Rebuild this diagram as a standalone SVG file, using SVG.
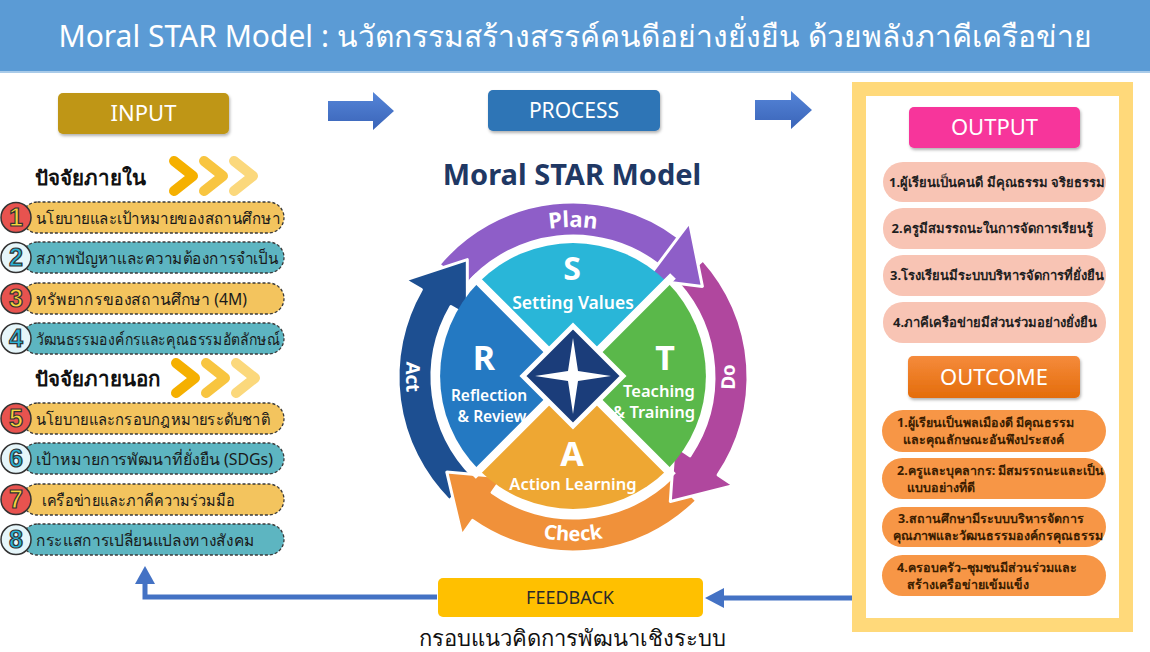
<svg xmlns="http://www.w3.org/2000/svg" width="1150" height="652" viewBox="0 0 1150 652">
<defs>
<style>
.th{font-family:"Noto Sans","Liberation Sans","DejaVu Sans",sans-serif}
.hdr{font-family:"Noto Sans","Liberation Sans",sans-serif;fill:#fff;text-anchor:middle}
.pill{stroke:#3a3a3a;stroke-width:1.3;stroke-dasharray:3 2}
.py{fill:#f3c45e}.pt{fill:#5db5c1}
.ptxt{font-family:"Noto Sans","Liberation Sans",sans-serif;font-size:16px;fill:#1a1a1a}
.codd{fill:#e8534f;stroke:#333;stroke-width:1.5}
.ceven{fill:#e6f6fa;stroke:#333;stroke-width:1.5}
.num{font-family:"Liberation Sans",sans-serif;font-weight:bold;font-size:25px;text-anchor:middle;stroke:#333;stroke-width:1.2}
.nodd{fill:#f8d43c}.neven{fill:#2bb3d6}
.ring{stroke:#fff;stroke-width:3;stroke-linejoin:round}
.rt{font-family:"Noto Sans","Liberation Sans",sans-serif;font-weight:bold;fill:#fff}
.ql{font-family:"Noto Sans","Liberation Sans",sans-serif;font-weight:bold;fill:#fff;text-anchor:middle}
.qs{font-family:"Noto Sans","Liberation Sans",sans-serif;font-weight:600;fill:#fff;text-anchor:middle;font-size:15.5px}
.opill{fill:#f8c4b4}
.otxt{font-family:"Noto Sans","Liberation Sans",sans-serif;font-weight:bold;font-size:13px;fill:#1e1e1e;text-anchor:middle}
.cpill{fill:#f79646}
.ctxt{font-family:"Noto Sans","Liberation Sans",sans-serif;font-weight:bold;font-size:12.5px;fill:#3b1d00}
.chev{fill:none;stroke-width:10;stroke-linecap:round;stroke-linejoin:round}
.blk{fill:#4472c4}
.fb{stroke:#4472c4;stroke-width:5;fill:none}
</style>
<linearGradient id="gout" x1="0" y1="0" x2="0" y2="1"><stop offset="0" stop-color="#f58b3c"/><stop offset="1" stop-color="#e46c0a"/></linearGradient>
<linearGradient id="garr" x1="0" y1="0" x2="0" y2="1"><stop offset="0" stop-color="#5585d8"/><stop offset="1" stop-color="#3a64b8"/></linearGradient>
<filter id="sh" x="-10%" y="-20%" width="120%" height="150%"><feDropShadow dx="1" dy="2" stdDeviation="1.5" flood-color="#000" flood-opacity="0.3"/></filter>
<path id="pPlan" d="M423,377 A150,150 0 0 1 723,377"/>
<path id="pCheck" d="M409,377 A164,164 0 0 0 737,377"/>
<path id="pAct" d="M573,210 A167,167 0 0 0 573,544"/>
<path id="pDo" d="M573,539 A162,162 0 0 0 573,215"/>
</defs>

<g id="title">
<rect x="0" y="0" width="1150" height="72" fill="#5b9bd5"/>
<rect x="0" y="71" width="1150" height="2" fill="#a9cbe9"/>
<text x="575" y="47" class="th" font-size="30" fill="#fff" text-anchor="middle">Moral STAR Model : นวัตกรรมสร้างสรรค์คนดีอย่างยั่งยืน ด้วยพลังภาคีเครือข่าย</text>
</g>

<g id="input">
<rect x="58" y="93" width="171" height="41" rx="5" fill="#bf9614" filter="url(#sh)"/>
<text x="143.5" y="121" class="hdr" font-size="22">INPUT</text>
</g>

<g id="internal-header">
<text x="35" y="185" class="th" font-size="20.5" font-weight="bold" fill="#111">ปัจจัยภายใน</text>
<polyline points="174,161 193,176 174,191" class="chev" stroke="#f5b000"/>
<polyline points="204,161 223,176 204,191" class="chev" stroke="#f8c540"/>
<polyline points="234,161 253,176 234,191" class="chev" stroke="#fbd87c"/>
</g>

<g id="external-header">
<text x="35" y="386" class="th" font-size="20.5" font-weight="bold" fill="#111">ปัจจัยภายนอก</text>
<polyline points="176,363 195,378 176,393" class="chev" stroke="#f5b000"/>
<polyline points="206,363 225,378 206,393" class="chev" stroke="#f8c540"/>
<polyline points="236,363 255,378 236,393" class="chev" stroke="#fbd87c"/>
</g>

<g id="item1"><rect x="22" y="202" width="262" height="31" rx="15.5" class="pill py"/><circle cx="16" cy="217.5" r="15" class="codd"/><text x="16" y="226" class="num nodd">1</text><text x="36" y="223.5" class="ptxt" textLength="244" lengthAdjust="spacingAndGlyphs">นโยบายและเป้าหมายของสถานศึกษา</text></g>
<g id="item2"><rect x="22" y="242" width="262" height="31" rx="15.5" class="pill pt"/><circle cx="16" cy="257.5" r="15" class="ceven"/><text x="16" y="266" class="num neven">2</text><text x="36" y="263.5" class="ptxt" textLength="242" lengthAdjust="spacingAndGlyphs">สภาพปัญหาและความต้องการจำเป็น</text></g>
<g id="item3"><rect x="22" y="283" width="262" height="31" rx="15.5" class="pill py"/><circle cx="16" cy="298.5" r="15" class="codd"/><text x="16" y="307" class="num nodd">3</text><text x="36" y="304.5" class="ptxt" textLength="211" lengthAdjust="spacingAndGlyphs">ทรัพยากรของสถานศึกษา (4M)</text></g>
<g id="item4"><rect x="22" y="323" width="262" height="31" rx="15.5" class="pill pt"/><circle cx="16" cy="338.5" r="15" class="ceven"/><text x="16" y="347" class="num neven">4</text><text x="36" y="344.5" class="ptxt" textLength="244" lengthAdjust="spacingAndGlyphs">วัฒนธรรมองค์กรและคุณธรรมอัตลักษณ์</text></g>
<g id="item5"><rect x="22" y="403" width="262" height="31" rx="15.5" class="pill py"/><circle cx="16" cy="418.5" r="15" class="codd"/><text x="16" y="427" class="num nodd">5</text><text x="36" y="424.5" class="ptxt" textLength="234" lengthAdjust="spacingAndGlyphs">นโยบายและกรอบกฎหมายระดับชาติ</text></g>
<g id="item6"><rect x="22" y="443" width="262" height="31" rx="15.5" class="pill pt"/><circle cx="16" cy="458.5" r="15" class="ceven"/><text x="16" y="467" class="num neven">6</text><text x="36" y="464.5" class="ptxt" textLength="237" lengthAdjust="spacingAndGlyphs">เป้าหมายการพัฒนาที่ยั่งยืน (SDGs)</text></g>
<g id="item7"><rect x="22" y="484" width="262" height="31" rx="15.5" class="pill py"/><circle cx="16" cy="499.5" r="15" class="codd"/><text x="16" y="508" class="num nodd">7</text><text x="42" y="505.5" class="ptxt" textLength="193" lengthAdjust="spacingAndGlyphs">เครือข่ายและภาคีความร่วมมือ</text></g>
<g id="item8"><rect x="22" y="524" width="262" height="31" rx="15.5" class="pill pt"/><circle cx="16" cy="539.5" r="15" class="ceven"/><text x="16" y="548" class="num neven">8</text><text x="36" y="545.5" class="ptxt" textLength="219" lengthAdjust="spacingAndGlyphs">กระแสการเปลี่ยนแปลงทางสังคม</text></g>

<g id="process">
<rect x="488" y="90" width="172" height="41" rx="5" fill="#2e75b6" filter="url(#sh)"/>
<text x="574" y="118" class="hdr" font-size="21">PROCESS</text>
</g>

<g id="model-title">
<text x="572" y="185" font-family="Noto Sans, Liberation Sans, sans-serif" font-weight="bold" font-size="29" fill="#1f3864" text-anchor="middle">Moral STAR Model</text>
</g>

<g id="star-model">
<g id="cycle">
<path class="ring" fill="#8e5ec8" d="M438.95,264.51 A175,175 0 0 1 678.3,237.2 L689.5,222.3 L702.4,286.4 L646.6,279.4 L657.9,264.4 A141,141 0 0 0 465.0,286.4 Z"/>
<path class="ring" fill="#1d4f91" d="M449.3,500.7 A175,175 0 0 1 421.4,289.5 L405,280 L467.3,259.6 L467.4,316 L450.9,306.5 A141,141 0 0 0 473.3,476.7 Z"/>
<path class="ring" fill="#f0913a" d="M696.7,500.7 A175,175 0 0 1 472.6,520.4 L461.8,535.7 L446.8,472.1 L502.9,477.1 L492.1,492.5 A141,141 0 0 0 672.7,476.7 Z"/>
<path class="ring" fill="#b0479e" d="M703.0,259.9 A175,175 0 0 1 718.1,474.9 L733.8,485.4 L670.3,501.5 L674.2,445.3 L689.9,455.8 A141,141 0 0 0 677.8,282.7 Z"/>
<path class="ring" fill="#8e5ec8" d="M678.3,237.2 L689.5,222.3 L702.4,286.4 L646.6,279.4 L657.9,264.4 Z"/>
<text class="rt" font-size="22"><textPath href="#pPlan" startOffset="50%" text-anchor="middle">Plan</textPath></text>
<text class="rt" font-size="20"><textPath href="#pCheck" startOffset="50%" text-anchor="middle">Check</textPath></text>
<text class="rt" font-size="19"><textPath href="#pAct" startOffset="50%" text-anchor="middle">Act</textPath></text>
<text class="rt" font-size="19"><textPath href="#pDo" startOffset="50%" text-anchor="middle">Do</textPath></text>
</g>
<g id="quadrants">
<path fill="#29b6d8" d="M573,376 L479,282 A133,133 0 0 1 667,282 Z"/>
<path fill="#5ab84a" d="M573,376 L667,282 A133,133 0 0 1 667,470 Z"/>
<path fill="#eea733" d="M573,376 L667,470 A133,133 0 0 1 479,470 Z"/>
<path fill="#2479c2" d="M573,376 L479,470 A133,133 0 0 1 479,282 Z"/>
<path d="M473,276 L673,476 M673,276 L473,476" stroke="#fff" stroke-width="8"/>
<polygon points="573,326 623,376 573,426 523,376" fill="#1b3d7a" stroke="#fff" stroke-width="5"/>
<polygon points="573,338 578,371 611,376 578,381 573,414 568,381 535,376 568,371" fill="#fff"/>
<text x="572" y="280" class="ql" font-size="32">S</text>
<text x="573" y="309" class="qs" style="font-size:17.5px">Setting Values</text>
<text x="484" y="370" class="ql" font-size="34">R</text>
<text x="489" y="401" class="qs">Reflection</text>
<text x="492" y="422" class="qs">&amp; Review</text>
<text x="665" y="370" class="ql" font-size="34">T</text>
<text x="659" y="397" class="qs" style="font-size:16.5px">Teaching</text>
<text x="654" y="418" class="qs" style="font-size:16.5px">&amp; Training</text>
<text x="572" y="466" class="ql" font-size="34">A</text>
<text x="573" y="490" class="qs" style="font-size:16.5px">Action Learning</text>
</g>
</g>

<g id="results-panel">
<rect x="859" y="89" width="267" height="536" fill="#fff" stroke="#ffd97a" stroke-width="14"/>
</g>

<g id="output">
<rect x="909" y="107" width="171" height="41" rx="5" fill="#f7359b" filter="url(#sh)"/>
<text x="994.5" y="135" class="hdr" font-size="22">OUTPUT</text>
</g>
<g id="out1"><rect x="883" y="162" width="223" height="40" rx="20" class="opill"/><text x="997" y="187" class="otxt">1.ผู้เรียนเป็นคนดี มีคุณธรรม จริยธรรม</text></g>
<g id="out2"><rect x="883" y="208" width="223" height="41" rx="20" class="opill"/><text x="992" y="233" class="otxt">2.ครูมีสมรรถนะในการจัดการเรียนรู้</text></g>
<g id="out3"><rect x="883" y="255" width="223" height="41" rx="20" class="opill"/><text x="997" y="280" class="otxt">3.โรงเรียนมีระบบบริหารจัดการที่ยั่งยืน</text></g>
<g id="out4"><rect x="883" y="302" width="223" height="41" rx="20" class="opill"/><text x="995" y="327" class="otxt">4.ภาคีเครือข่ายมีส่วนร่วมอย่างยั่งยืน</text></g>

<g id="outcome">
<rect x="908" y="356" width="172" height="42" rx="5" fill="url(#gout)" filter="url(#sh)"/>
<text x="994" y="385" class="hdr" font-size="22">OUTCOME</text>
</g>
<g id="oc1"><rect x="882" y="410" width="224" height="42" rx="21" class="cpill"/><text x="897" y="427" class="ctxt">1.ผู้เรียนเป็นพลเมืองดี  มีคุณธรรม</text><text x="903" y="444" class="ctxt">และคุณลักษณะอันพึงประสงค์</text></g>
<g id="oc2"><rect x="882" y="458" width="224" height="41" rx="20.5" class="cpill"/><text x="897" y="475" class="ctxt">2.ครูและบุคลากร:  มีสมรรถนะและเป็น</text><text x="907" y="492" class="ctxt">แบบอย่างที่ดี</text></g>
<g id="oc3"><rect x="882" y="507" width="224" height="40" rx="20" class="cpill"/><text x="898" y="523" class="ctxt">3.สถานศึกษามีระบบบริหารจัดการ</text><text x="893" y="540" class="ctxt">คุณภาพและวัฒนธรรมองค์กรคุณธรรม</text></g>
<g id="oc4"><rect x="882" y="555" width="224" height="41" rx="20.5" class="cpill"/><text x="897" y="572" class="ctxt">4.ครอบครัว–ชุมชนมีส่วนร่วมและ</text><text x="907" y="589" class="ctxt">สร้างเครือข่ายเข้มแข็ง</text></g>

<g id="feedback">
<rect x="438" y="578" width="265" height="39" rx="5" fill="#ffc000"/>
<text x="570" y="604" font-family="Noto Sans, Liberation Sans, sans-serif" font-size="18" fill="#2a2a2a" text-anchor="middle">FEEDBACK</text>
</g>

<g id="caption">
<text x="572" y="646" class="th" font-size="22" fill="#111" text-anchor="middle">กรอบแนวคิดการพัฒนาเชิงระบบ</text>
</g>

<g id="connectors">
<polygon points="328,101 373,101 373,92 394,111 373,130 373,121 328,121" fill="url(#garr)"/>
<polygon points="755,100 791,100 791,91 812,110 791,129 791,120 755,120" fill="url(#garr)"/>
<polyline points="437,597 145,597 145,582" class="fb"/>
<polygon points="145,566 135,584 155,584" class="blk"/>
<line x1="852" y1="598" x2="722" y2="598" class="fb"/>
<polygon points="705,598 724,588 724,608" class="blk"/>
</g>
</svg>
